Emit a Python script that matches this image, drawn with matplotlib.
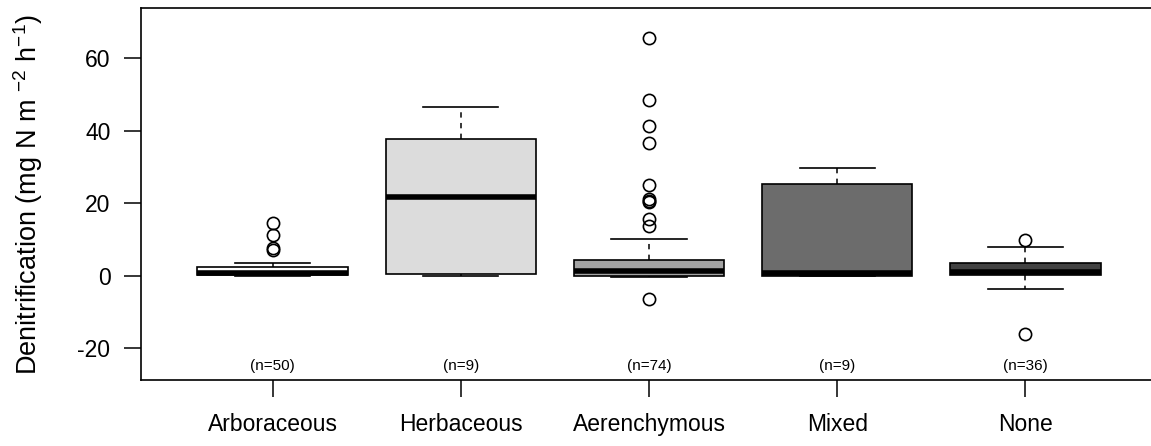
import matplotlib
matplotlib.use("Agg")
import matplotlib.pyplot as plt

plt.rcParams["font.family"] = ["Liberation Sans", "DejaVu Sans"]
plt.rcParams["mathtext.fontset"] = "custom"
plt.rcParams["mathtext.rm"] = "Liberation Sans"
plt.rcParams["mathtext.it"] = "Liberation Sans"
plt.rcParams["axes.unicode_minus"] = False

# Vegetation classes and their summary statistics (mg N m-2 h-1)
categories = ["Arboraceous", "Herbaceous", "Aerenchymous", "Mixed", "None"]
counts = [50, 9, 74, 9, 36]
whisker_low = [-0.2, 0.0, -0.3, 0.0, -3.6]
q1 = [0.1, 0.4, 0.0, 0.0, 0.1]
medians = [0.6, 21.6, 1.2, 0.8, 1.0]
q3 = [2.3, 37.8, 4.4, 25.2, 3.4]
whisker_high = [3.6, 46.5, 10.1, 29.8, 8.0]
outliers = [
    [14.5, 11.2, 7.6, 7.0],
    [],
    [65.5, 48.5, 41.3, 36.5, 25.1, 21.0, 20.6, 20.3, 15.6, 13.8, -6.4],
    [],
    [9.7, -16.2],
]
fill_colors = ["#FFFFFF", "#DCDCDC", "#A3A3A3", "#6C6C6C", "#424242"]

stats = []
for i, name in enumerate(categories):
    stats.append({
        "label": name,
        "whislo": whisker_low[i],
        "q1": q1[i],
        "med": medians[i],
        "q3": q3[i],
        "whishi": whisker_high[i],
        "fliers": outliers[i],
    })

W, H = 1151, 446
fig = plt.figure(figsize=(W / 100, H / 100), dpi=100)
left, right, top, bottom = 141, 1157, 8, 380
ax = fig.add_axes([left / W, 1 - bottom / H, (right - left) / W, (bottom - top) / H])

positions = list(range(1, len(categories) + 1))
bp = ax.bxp(
    stats,
    positions=positions,
    widths=0.8,
    capwidths=0.4,
    patch_artist=True,
    boxprops=dict(edgecolor="black", linewidth=1.2),
    medianprops=dict(color="black", linewidth=4.0, solid_capstyle="butt"),
    whiskerprops=dict(color="black", linewidth=1.1, linestyle=(0, (3.5, 3.5))),
    capprops=dict(color="black", linewidth=1.2),
    flierprops=dict(marker="o", markerfacecolor="none", markeredgecolor="black",
                    markersize=8.8, markeredgewidth=1.2),
)
for patch, c in zip(bp["boxes"], fill_colors):
    patch.set_facecolor(c)

for x, n in zip(positions, counts):
    ax.text(x, -25, f"(n={n})", ha="center", va="center", fontsize=11)

ax.set_xlim(0.3, 5.7)
ax.set_ylim(-28.8, 73.8)
ax.set_yticks([-20, 0, 20, 40, 60])
ax.set_xticks(positions)
ax.set_xticklabels(categories)
ax.tick_params(axis="both", labelsize=16.5, length=12, width=1.1, pad=10)
ax.tick_params(axis="x", pad=12)
for s in ax.spines.values():
    s.set_linewidth(1.2)

fig.text(28 / W, 1 - 195 / H, r"Denitrification (mg N m $^{-2}$ h$^{-1}$)",
         rotation=90, ha="center", va="center", fontsize=19.5)

fig.savefig("out.png", dpi=100)
